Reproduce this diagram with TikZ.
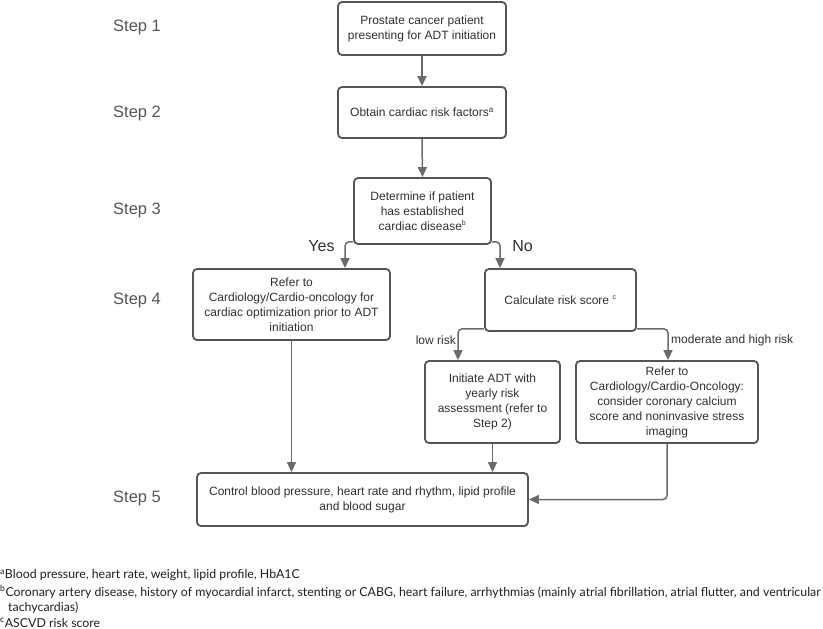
\documentclass[tikz,border=0pt]{standalone}
\usepackage{fontspec}
\setmainfont{Liberation Sans}
\newfontfamily\latofont{Lato}
\usetikzlibrary{arrows.meta,calc}
\definecolor{boxline}{HTML}{555555}
\definecolor{arrline}{HTML}{6A6A6A}
\definecolor{txt}{HTML}{303030}
\definecolor{steptxt}{HTML}{555555}
\tikzset{
  fbox/.style={draw=boxline, line width=1.8pt, rounded corners=4pt, align=center,
    font=\fontsize{12}{15}\selectfont, text=txt, inner sep=0pt},
  arr/.style={draw=arrline, line width=1.5pt, -{Triangle[length=10pt,width=9pt]}},
  steplbl/.style={anchor=west, font=\fontsize{16.5}{18}\selectfont, text=steptxt, inner sep=0pt},
  brlbl/.style={font=\fontsize{16}{18}\selectfont, text=txt, inner sep=0pt},
  smlbl/.style={font=\fontsize{12}{14}\selectfont, text=txt, inner sep=0pt},
  fn/.style={anchor=west, font=\latofont\fontsize{12.35}{14}\selectfont, text=black!88, inner sep=0pt},
}
\begin{document}
\begin{tikzpicture}[x=1pt,y=-1pt]
\useasboundingbox (0,0) rectangle (823,629);
% step labels
\node[steplbl] (s1) at (113,27) {Step 1};
\node[steplbl] (s2) at (113,113) {Step 2};
\node[steplbl] (s3) at (113,210) {Step 3};
\node[steplbl] (s4) at (113,300) {Step 4};
\node[steplbl] (s5l) at (113,498) {Step 5};
% boxes
\node[fbox, minimum width=168pt, minimum height=53pt] (b1) at (422,28.5) {Prostate cancer patient\\presenting for ADT initiation};
\node[fbox, minimum width=168pt, minimum height=51pt] (b2) at (422,112.5) {Obtain cardiac risk factors\textsuperscript{a}};
\node[fbox, minimum width=137pt, minimum height=66pt] (b3) at (422.5,211) {Determine if patient\\has established\\cardiac disease\textsuperscript{\scriptsize b}};
\node[fbox, minimum width=197pt, minimum height=71pt] (b4) at (291.5,304.5) {Refer to\\Cardiology/Cardio-oncology for\\cardiac optimization prior to ADT\\initiation};
\node[fbox, minimum width=151pt, minimum height=62pt] (calc) at (560.5,300) {Calculate risk score \textsuperscript{\scriptsize c}};
\node[fbox, minimum width=135pt, minimum height=82pt] (low) at (492.5,402) {Initiate ADT with\\yearly risk\\assessment (refer to\\Step 2)};
\node[fbox, minimum width=182pt, minimum height=82pt] (mod) at (667,402) {Refer to\\Cardiology/Cardio-Oncology:\\consider coronary calcium\\score and noninvasive stress\\imaging};
\node[fbox, minimum width=331pt, minimum height=53pt] (s5) at (362.5,499.5) {Control blood pressure, heart rate and rhythm, lipid profile\\and blood sugar};
% connectors
\draw[arr] (b1.south) -- (b2.north);
\draw[arr] (b2.south) -- (b3.north);
\draw[arr, rounded corners=4pt] ([yshift=3pt]b3.south west) -| ([xshift=53.5pt]b4.north);
\draw[arr, rounded corners=4pt] ([yshift=3pt]b3.south east) -| ([xshift=-60.5pt]calc.north);
\draw[arr, rounded corners=4pt] ([yshift=3pt]calc.south west) -| ([xshift=-34.5pt]low.north);
\draw[arr, rounded corners=4pt] ([yshift=3pt]calc.south east) -| ([xshift=1pt]mod.north);
\draw[arr] (b4.south) -- (b4.south |- s5.north);
\draw[arr] (low.south) -- (low.south |- s5.north);
\draw[arr, rounded corners=4pt] (mod.south) |- (s5.east);
% branch labels
\node[brlbl] (yes) at (321.5,246) {Yes};
\node[brlbl] (no) at (522.5,246) {No};
\node[smlbl, anchor=east] (lowr) at (456,340) {low risk};
\node[smlbl, anchor=west] (modr) at (671,340) {moderate and high risk};
% footnotes
\node[fn] (f1) at (0,575) {\textsuperscript{a}Blood pressure, heart rate, weight, lipid profile, HbA1C};
\node[fn] (f2) at (0,592) {\textsuperscript{b}Coronary artery disease, history of myocardial infarct, stenting or CABG, heart failure, arrhythmias (mainly atrial fibrillation, atrial flutter, and ventricular};
\node[fn] (f3) at (8,607.5) {tachycardias)};
\node[fn] (f4) at (0,622.5) {\textsuperscript{c}ASCVD risk score};
\end{tikzpicture}
\end{document}
